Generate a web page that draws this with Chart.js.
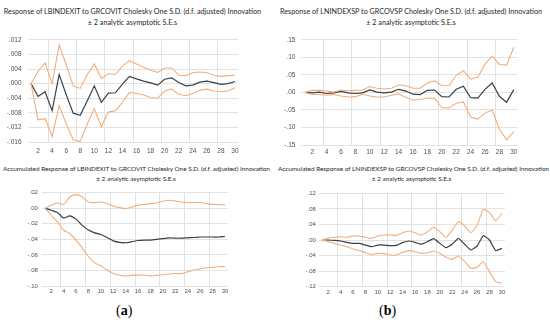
<!DOCTYPE html>
<html><head><meta charset="utf-8">
<script src="https://cdn.jsdelivr.net/npm/chart.js@4/dist/chart.umd.min.js"></script>
<style>
body{margin:0;background:#fff;width:550px;height:322px;position:relative;overflow:hidden;font-family:Lato,'Open Sans',sans-serif;}
.t{position:absolute;text-align:center;color:#262626;white-space:nowrap;}
.t7{font-size:7.2px;line-height:11px;}
.t6{font-size:6.4px;line-height:10px;}
.cap{position:absolute;font-family:'Liberation Serif',serif;font-size:14px;color:#000;}
canvas{position:absolute;}
</style></head><body>
<div class="t t7" style="left:0;top:6px;width:265px;">Response of LBINDEXIT to GRCOVIT Cholesky One S.D. (d.f. adjusted) Innovation<br>± 2 analytic asymptotic S.E.s</div>
<div class="t t7" style="left:278px;top:6px;width:266px;">Response of LNINDEXSP to GRCOVSP Cholesky One S.D. (d.f. adjusted) Innovation<br>± 2 analytic asymptotic S.E.s</div>
<div class="t t6" style="left:3px;top:164px;width:266px;">Accumulated Response of LBINDEXIT to GRCOVIT Cholesky One S.D. (d.f. adjusted) Innovation<br>± 2 analytic asymptotic S.E.s</div>
<div class="t t6" style="left:278px;top:164px;width:267px;">Accumulated Response of LNINDEXSP to GRCOVSP Cholesky One S.D. (d.f. adjusted) Innovation<br>± 2 analytic asymptotic S.E.s</div>
<div class="cap" style="left:116px;top:303px;">(<b>a</b>)</div>
<div class="cap" style="left:379px;top:303px;">(<b>b</b>)</div>
<canvas id="tl" width="250" height="128" style="left:0;top:30px;"></canvas>
<canvas id="tr" width="260" height="130" style="left:275px;top:30px;"></canvas>
<canvas id="bl" width="245" height="116" style="left:0;top:185px;"></canvas>
<canvas id="br" width="250" height="116" style="left:275px;top:185px;"></canvas>
<script>
const periods=[1,2,3,4,5,6,7,8,9,10,11,12,13,14,15,16,17,18,19,20,21,22,23,24,25,26,27,28,29,30];
const xTickVals=[2,4,6,8,10,12,14,16,18,20,22,24,26,28,30];
const xGridVals=[3.5,7.5,11.5,15.5,19.5,23.5,27.5];

const tlTicks=[-0.016,-0.012,-0.008,-0.004,0,0.004,0.008,0.012];
const trTicks=[-0.15,-0.10,-0.05,0,0.05,0.10,0.15];
const blTicks=[-0.10,-0.08,-0.06,-0.04,-0.02,0,0.02];
const brTicks=[-0.12,-0.08,-0.04,0,0.04,0.08,0.12];

const tlResp=[0,-0.0035,-0.0022,-0.0074,0.0025,-0.003,-0.0081,-0.0087,-0.0047,-0.0006,-0.0051,-0.0026,-0.0025,-0.0001,0.002,0.0013,0.0007,0.0002,-0.0004,0.0012,0.0016,0.0003,-0.0006,-0.0004,0.0004,0.0007,0.0003,-0.0002,0,0.0006];
const tlUp=[0,0.0034,0.0057,0,0.0106,0.0052,-0.0006,-0.0013,0.0025,0.0054,0.0014,0.0027,0.0025,0.0048,0.0063,0.0054,0.0045,0.0037,0.0031,0.0043,0.0043,0.0023,0.0022,0.003,0.0032,0.003,0.0023,0.002,0.0022,0.0023];
const tlLo=[0,-0.0099,-0.0096,-0.0145,-0.006,-0.011,-0.0154,-0.0159,-0.011,-0.0069,-0.0118,-0.0078,-0.0074,-0.0051,-0.0024,-0.0027,-0.0031,-0.0038,-0.004,-0.002,-0.0015,-0.0029,-0.0033,-0.0027,-0.0018,-0.0015,-0.002,-0.0022,-0.002,-0.0011];

const trResp=[0,-0.001,0.001,-0.003,-0.001,0.003,-0.001,-0.003,-0.001,0.007,0.001,-0.001,0.001,0.009,0.004,-0.005,-0.006,0.006,0.007,-0.012,-0.013,0.009,0.018,-0.015,-0.016,0.009,0.027,-0.011,-0.028,0.008];
const trUp=[0,0.006,0.006,0.004,0.001,0.007,0.005,0.006,0.007,0.017,0.012,0.010,0.012,0.022,0.019,0.012,0.012,0.027,0.033,0.019,0.020,0.049,0.062,0.038,0.043,0.081,0.104,0.080,0.078,0.129];
const trLo=[0,-0.006,-0.006,-0.008,-0.006,-0.010,-0.013,-0.012,-0.005,-0.010,-0.013,-0.013,-0.008,-0.004,-0.014,-0.022,-0.020,-0.016,-0.017,-0.043,-0.044,-0.031,-0.027,-0.070,-0.076,-0.059,-0.050,-0.105,-0.135,-0.112];

const blResp=[0,-0.0026,-0.0055,-0.0124,-0.0098,-0.014,-0.022,-0.028,-0.0316,-0.0338,-0.0376,-0.042,-0.044,-0.0444,-0.043,-0.0415,-0.041,-0.041,-0.040,-0.039,-0.038,-0.0385,-0.0385,-0.038,-0.0376,-0.037,-0.037,-0.037,-0.037,-0.0363];
const blUp=[0,0.004,0.0068,0.005,0.0145,0.0175,0.0145,0.008,0.0073,0.008,0.006,0.0026,0.0009,-0.0004,0.0017,0.004,0.005,0.006,0.0068,0.009,0.0103,0.0094,0.008,0.0073,0.0073,0.0073,0.006,0.005,0.0047,0.0043];
const blLo=[0,-0.009,-0.0175,-0.028,-0.0325,-0.041,-0.051,-0.0624,-0.070,-0.0744,-0.0795,-0.084,-0.086,-0.0872,-0.0863,-0.086,-0.086,-0.087,-0.0863,-0.0855,-0.0846,-0.084,-0.084,-0.0816,-0.0795,-0.078,-0.0765,-0.076,-0.0752,-0.075];

const brResp=[0,0,-0.001,-0.0026,-0.006,-0.0086,-0.0086,-0.013,-0.017,-0.013,-0.013,-0.0146,-0.0137,-0.0069,-0.0026,-0.006,-0.011,-0.0043,0.0034,-0.0086,-0.0197,-0.0103,0.0043,-0.011,-0.0257,-0.0154,0.0111,0,-0.0274,-0.0214];
const brUp=[0,0.0043,0.0069,0.0086,0.0069,0.0103,0.0103,0.0069,0.0043,0.0103,0.0129,0.0129,0.012,0.0188,0.0231,0.0188,0.0129,0.0214,0.0326,0.0214,0.0069,0.0257,0.0471,0.036,0.0188,0.0386,0.0788,0.0703,0.0497,0.0686];
const brLo=[0,-0.0043,-0.0086,-0.013,-0.017,-0.023,-0.027,-0.0326,-0.0368,-0.0343,-0.035,-0.0386,-0.0386,-0.0317,-0.0274,-0.03,-0.0343,-0.0326,-0.0283,-0.0343,-0.0446,-0.0497,-0.0411,-0.0557,-0.0728,-0.0703,-0.0557,-0.0814,-0.107,-0.111];

const ORANGE='#F2AE7A', DARK='#3A3F44', GRID='#E2E2E2', TICK='#505050';

function fmt(v,dec){const s=Math.abs(v).toFixed(dec).replace(/^0/,'');return (v<-1e-12?'-':'')+s;}

function makePanel(id,up,resp,lo,yTicks,dec,g){
  const pts=a=>periods.map((p,i)=>({x:p,y:a[i]}));
  const ds=(a,c,w)=>({data:pts(a),borderColor:c,borderWidth:w,pointRadius:0,tension:g.tension,fill:false,xAxisID:'x',yAxisID:'y'});
  new Chart(document.getElementById(id),{
    type:'line',
    data:{datasets:[ds(up,ORANGE,1.1),ds(lo,ORANGE,1.1),ds(resp,DARK,1.2)]},
    options:{
      responsive:false,animation:false,
      layout:{padding:{top:g.pt,right:g.pr,left:0,bottom:0}},
      plugins:{legend:{display:false},tooltip:{enabled:false},title:{display:false}},
      scales:{
        x:{type:'linear',position:'bottom',min:0.5,max:30.5,
          afterBuildTicks:s=>{s.ticks=xTickVals.map(v=>({value:v}));},
          afterFit:s=>{s.height=g.xh;},
          grid:{display:false,drawTicks:false},border:{display:false},
          ticks:{font:{family:'Liberation Sans',size:g.fs},color:TICK,padding:g.xpad,maxRotation:0,autoSkip:false,callback:v=>String(v)}},
        xg:{type:'linear',position:'bottom',min:0.5,max:30.5,
          afterBuildTicks:s=>{s.ticks=xGridVals.map(v=>({value:v}));},
          afterFit:s=>{s.height=0;},
          ticks:{display:false},grid:{color:GRID,drawTicks:false,lineWidth:1},border:{display:false}},
        y:{type:'linear',min:yTicks[0],max:yTicks[yTicks.length-1],
          afterBuildTicks:s=>{s.ticks=yTicks.map(v=>({value:v}));},
          afterFit:s=>{s.width=g.yw;},
          grid:{color:GRID,drawTicks:false,lineWidth:1},border:{display:false},
          ticks:{font:{family:'Liberation Sans',size:g.fs},color:TICK,padding:g.ypad,callback:v=>fmt(v,dec)}}
      }
    }
  });
}

makePanel('tl',tlUp,tlResp,tlLo,tlTicks,3,{pt:8,pr:11.5,yw:27.5,xh:16,fs:6.5,xpad:5,ypad:6,tension:0});
makePanel('tr',trUp,trResp,trLo,trTicks,2,{pt:6,pr:17.6,yw:26.4,xh:15,fs:6.5,xpad:3,ypad:6,tension:0});
makePanel('bl',blUp,blResp,blLo,blTicks,2,{pt:7.7,pr:16.9,yw:41.9,xh:15,fs:6,xpad:2,ypad:4,tension:0.3});
makePanel('br',brUp,brResp,brLo,brTicks,2,{pt:8.3,pr:20,yw:43.9,xh:14.3,fs:6,xpad:2,ypad:3,tension:0.15});
</script>
</body></html>
